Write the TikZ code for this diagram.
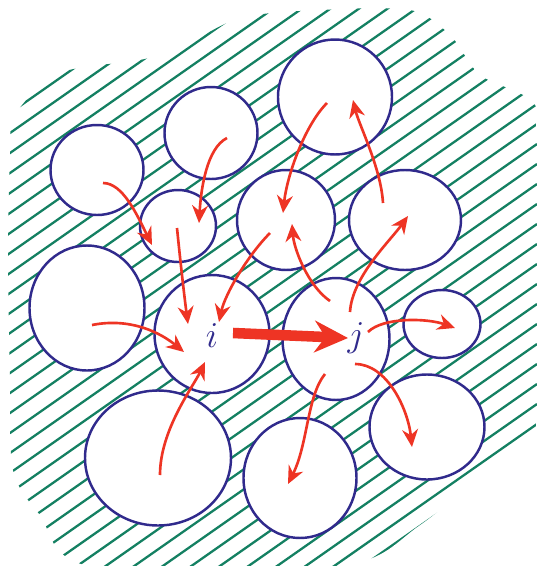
\documentclass[tikz,border=0pt]{standalone}
\usetikzlibrary{arrows.meta,shapes.geometric}
\definecolor{hatchgreen}{RGB}{20,128,98}
\definecolor{rimblue}{RGB}{48,42,140}
\definecolor{arrowred}{RGB}{238,52,36}
\tikzset{
  blob/.style 2 args={ellipse,draw=rimblue,fill=white,line width=1.4pt,
    minimum width=#1*0.02cm,minimum height=#2*0.02cm,inner sep=0pt},
  hatch/.style={hatchgreen,line width=1.3pt},
  flow/.style={arrowred,line width=1.5pt,arrows={-Stealth[length=10pt,width=9pt]}},
  push/.style={arrowred,line width=6pt,arrows={-Stealth[length=19pt,width=18pt]}},
  tag/.style={text=rimblue,font=\huge}
}
\begin{document}
\begin{tikzpicture}[x=0.02cm,y=-0.02cm]
\useasboundingbox (0,0) rectangle (537,566);
% hatched ground
\begin{scope}
\clip plot[smooth cycle] coordinates {(15,115) (60,73) (140,60) (180,48) (240,18)
  (320,10) (410,10) (450,35) (480,75) (530,100) (537,140) (537,420) (510,450)
  (420,525) (340,566) (90,566) (40,515) (13,470) (10,380) (8,250) (10,160)};
\foreach \c in {0,20,...,960}
  \draw[hatch] (0,\c) -- (537,\c-376);
\end{scope}
% cells
\node[blob={93}{90}]   (nA) at (97,170) {};
\node[blob={93}{92}]   (nB) at (211,133) {};
\node[blob={114}{115}] (nC) at (335,97) {};
\node[blob={76}{72}]   (nD) at (178,226) {};
\node[blob={98}{100}]  (nE) at (286,220) {};
\node[blob={112}{100}] (nF) at (405,220) {};
\node[blob={115}{125}] (nG) at (87,308) {};
\node[blob={115}{118}] (celli) at (212,334) {};
\node[blob={107}{122}] (cellj) at (336,339) {};
\node[blob={77}{68}]   (nK) at (442,324) {};
\node[blob={146}{135}] (nL) at (158,458) {};
\node[blob={113}{120}] (nM) at (300,478) {};
\node[blob={115}{105}] (nN) at (427,427) {};
\node[tag] (li) at (212,336) {$i$};
\node[tag] (lj) at (356,338) {$j$};
% flows into i
\draw[flow] ([shift={(6,13)}]nA.center) .. controls +(20,0) and +(-15,-30) .. ([shift={(-26,19)}]nD.center);
\draw[flow] ([shift={(16,5)}]nB.center) .. controls +(-20,10) and +(2,-35) .. ([shift={(21,-3)}]nD.center);
\draw[flow] ([shift={(-1,2)}]nD.center) .. controls +(3,30) and +(-4,-30) .. ([shift={(-24,-10)}]celli.center);
\draw[flow] ([shift={(-16,13)}]nE.center) .. controls +(-22,22) and +(6,-28) .. ([shift={(7,-12)}]celli.center);
\draw[flow] ([shift={(5,17)}]nG.center) .. controls +(40,-8) and +(-22,-18) .. ([shift={(-28,18)}]celli.center);
\draw[flow] ([shift={(2,17)}]nL.center) .. controls +(0,-45) and +(-12,25) .. ([shift={(-7,28)}]celli.center);
% i to j
\draw[push] ([shift={(21,-1)}]celli.center) -- ([shift={(12,-1)}]cellj.center);
% flows out of j
\draw[flow] ([shift={(-6,-38)}]cellj.center) .. controls +(-22,-15) and +(2,25) .. ([shift={(6,4)}]nE.center);
\draw[flow] ([shift={(14,-27)}]cellj.center) .. controls +(2,-35) and +(-18,25) .. ([shift={(3,-4)}]nF.center);
\draw[flow] ([shift={(-22,-17)}]nF.center) .. controls +(-2,-35) and +(6,25) .. ([shift={(18,3)}]nC.center);
\draw[flow] ([shift={(-8,6)}]nC.center) .. controls +(-22,22) and +(4,-38) .. ([shift={(-3,-7)}]nE.center);
\draw[flow] ([shift={(32,-7)}]cellj.center) .. controls +(15,-15) and +(-28,-10) .. ([shift={(13,4)}]nK.center);
\draw[flow] ([shift={(19,25)}]cellj.center) .. controls +(32,0) and +(-4,-38) .. ([shift={(-15,20)}]nN.center);
\draw[flow] ([shift={(-11,35)}]cellj.center) .. controls +(-18,22) and +(20,-40) .. ([shift={(-12,6)}]nM.center);
\end{tikzpicture}
\end{document}
